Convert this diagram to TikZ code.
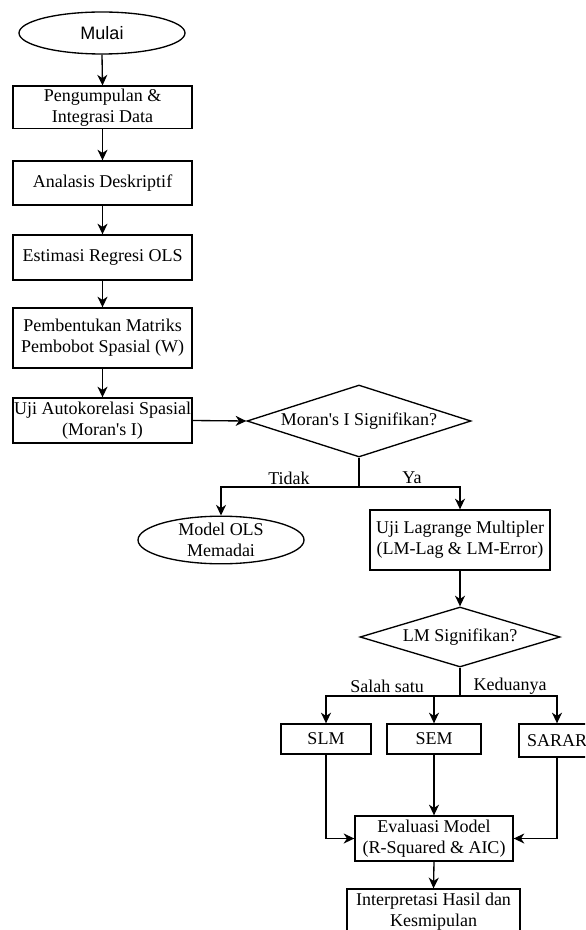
\documentclass[tikz,border=0pt]{standalone}
\usepackage{fontspec}
\setmainfont{Liberation Serif}
\newfontfamily\arialfont{Liberation Sans}
\usetikzlibrary{shapes.geometric,arrows.meta}

\begin{document}
\begin{tikzpicture}[x=0.75pt,y=-0.75pt,
  every node/.style={font=\fontsize{13.5pt}{15.75pt}\selectfont, align=center, inner sep=0pt},
  box/.style={draw, line width=1pt, minimum width=#1},
  term/.style={draw, ellipse, line width=1pt, minimum width=124.5pt, minimum height=#1},
  decision/.style={draw, diamond, line width=1pt, aspect=3.1},
  flow/.style={line width=1pt, -{Stealth[length=8pt,width=7.5pt,inset=2.5pt]}}]
\useasboundingbox (0,0) rectangle (585,930);
\clip (0,0) rectangle (585,930);

% kolom kiri
\node[term=31.5pt, font=\arialfont\fontsize{13.5pt}{15.75pt}\selectfont] (mulai) at (102,33) {Mulai};
\node[box=134.25pt, minimum height=32pt] (data) at (102.5,107.5) {Pengumpulan \&\\Integrasi Data};
\node[box=134.25pt, minimum height=33pt] (desk) at (102.5,183) {Analasis Deskriptif};
\node[box=134.25pt, minimum height=33.75pt] (ols) at (102.5,257.5) {Estimasi Regresi OLS};
\node[box=134.25pt, minimum height=45pt] (matriks) at (102.5,338) {Pembentukan Matriks\\Pembobot Spasial (W)};
\node[box=134.25pt, minimum height=33.75pt] (moran) at (102.5,420.5) {Uji Autokorelasi Spasial\\(Moran\textquotesingle s I)};

\foreach \a/\b in {mulai/data,data/desk,desk/ols,ols/matriks,matriks/moran}
  \draw[flow] (\a.south) -- (\b.north);

% keputusan Moran
\node[decision, minimum width=168pt, minimum height=54pt] (moranq) at (359,421) {Moran\textquotesingle s I Signifikan?};
\draw[flow] (moran.east) -- (moranq.west);

\coordinate (cabang1) at (359,487);
\node[term=34.5pt] (memadai) at (221,540) {Model OLS\\Memadai};
\node[box=135pt, minimum height=45pt] (lm) at (460,540) {Uji Lagrange Multipler\\(LM-Lag \& LM-Error)};
\draw[line width=1pt] (moranq.south) -- (cabang1);
\draw[flow] (cabang1) -| (memadai.north);
\draw[flow] (cabang1) -| (lm.north);
\node (tidak) at (289,478) {Tidak};
\node (ya) at (412,478) {Ya};

% keputusan LM
\node[decision, minimum width=150pt, minimum height=45pt] (lmq) at (460,637) {LM Signifikan?};
\draw[flow] (lm.south) -- (lmq.north);

\coordinate (cabang2) at (460,696);
\node[box=67.5pt, minimum height=22.5pt] (slm) at (326,739) {SLM};
\node[box=70.5pt, minimum height=22.5pt] (sem) at (434,739) {SEM};
\node[box=57pt, minimum height=24.75pt] (sarar) at (557,740.5) {SARAR};
\draw[line width=1pt] (lmq.south) -- (cabang2);
\draw[flow] (cabang2) -| (slm.north);
\draw[flow] (cabang2) -| (sarar.north);
\draw[flow] (sem.north |- cabang2) -- (sem.north);
\node (salah) at (387,686) {Salah satu};
\node (kedua) at (510,686) {Keduanya};

% evaluasi
\node[box=118.5pt, minimum height=33.75pt] (eval) at (434,838.5) {Evaluasi Model\\(R-Squared \& AIC)};
\node[box=129.75pt, minimum height=33.75pt] (interp) at (433.5,911.5) {Interpretasi Hasil dan\\Kesmipulan};
\draw[flow] (slm.south) |- (eval.west);
\draw[flow] (sarar.south) |- (eval.east);
\draw[flow] (sem.south) -- (eval.north);
\draw[flow] (eval.south) -- (interp.north);
\end{tikzpicture}
\end{document}
